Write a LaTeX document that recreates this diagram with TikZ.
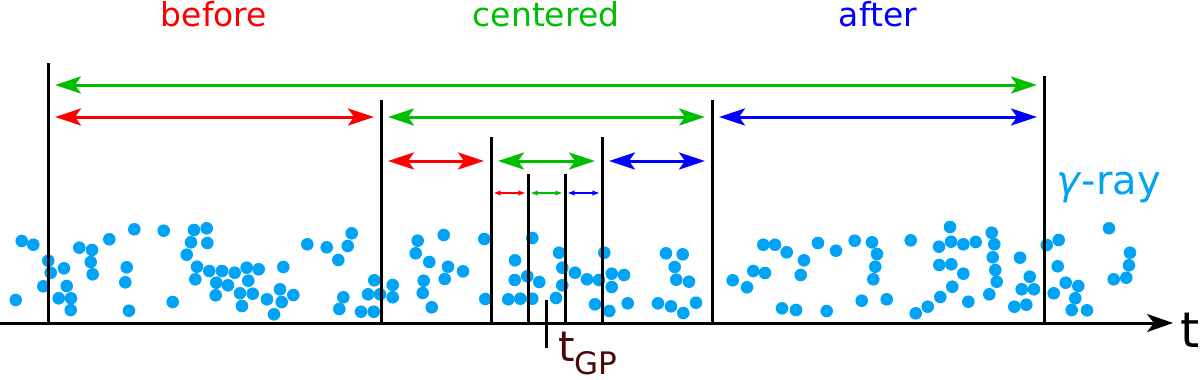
\documentclass[tikz,border=0pt]{standalone}
\usepackage{fontspec}
\setmainfont{DejaVu Sans}
\usetikzlibrary{arrows.meta}
\definecolor{bred}{RGB}{255,0,0}
\definecolor{bgreen}{RGB}{0,190,0}
\definecolor{bblue}{RGB}{0,0,255}
\definecolor{photon}{RGB}{0,163,245}
\definecolor{gpbrown}{RGB}{75,8,8}
\tikzset{
  lbl/.style={inner sep=0pt, anchor=base, font=\fontsize{33}{40}\selectfont},
  edge/.style={line width=3pt},
  bigwin/.style={line width=3pt, shorten <=7pt, shorten >=7pt,
    {Stealth[length=26pt,width=17pt,inset=6pt]}-{Stealth[length=26pt,width=17pt,inset=6pt]}},
  smallwin/.style={line width=1.2pt, shorten <=3pt, shorten >=3pt,
    {Stealth[length=7pt,width=5pt,inset=1.5pt]}-{Stealth[length=7pt,width=5pt,inset=1.5pt]}},
  dot/.style={fill=photon}
}
\begin{document}
\begin{tikzpicture}[x=1pt,y=-1pt]
\useasboundingbox (0,0) rectangle (1200,380);
% photons
\foreach \px/\py in {21.7/241,33.3/244.7,48.3/260.7,50.7/272.7,43.3/286.3,15.7/300,64/268.3,66.7/286,58.7/298.3,71/298.3,70.7/310,79.3/247.7,92/250,90.7/262,92.7/274.3,109.3/239.3,134.3/229.3,163.7/230.7,126.7/267.3,125.3/282.3,129/310.7,172.7/302,194/230,206.7/228.3,191/242.3,207.3/243,186.7/254.7,197/266.7,195.3/279.3,209.3/271,222/271,234.7/272.7,246.7/267.7,258.7/269.3,216.3/282.7,228/285.3,248.3/280.7,215.7/295.3,240/293.3,252.7/293.7,242/306,283.3/267,280/289.3,267/299.3,281.7/302,293.3/295,274/314.3,307.3/244.3,326.7/247.3,347.7/246,351.7/233.3,338.3/260,343.3/297.3,339.3/309,361/311.7,373.7/311.7,368/294.3,374.3/280.3,380/294.3,392.7/285,392.7/297.3}
  \fill[dot] (\px,\py) circle (6.3pt);
\foreach \px/\py in {417.7/240.7,443.7/235,484.3/239,415.7/253.3,429.3/262,448/266.7,463/271.3,423.7/280.7,444.7/279,422.7/293,431.7/307.3,485.3/299,508.3/299.3,520.3/298.7,532.3/298.7,532.3/238,515/260.3,514.7/280,527.3/276.3,539.3/282,556/298,559/252.7,562.3/267.7,562.3/285.3,575/272.7,587/279.3,599/280,604.3/252.7,611.7/273.7,611.7/287,624/275,595/304.3,609.3/311,627.7/303.3,666/253.3,682.7/254.3,674.7/267,676.3/279.7,689/281.7,658/303.3,671/306.3,683.3/313,696/302.7,732.7/280.3,747/287.3,753.3/271,765/273,763.3/244.7,775/244.7}
  \fill[dot] (\px,\py) circle (6.3pt);
\foreach \px/\py in {786.7/252.3,804/260.3,800.7/275,782/308.3,796/310,818/243,836/250.7,826.7/311,854.7/240.7,872/242.3,877/254,875.3/266.7,873.3/279.3,861.7/300.7,886.7/299.3,910.7/240.3,950/227,951/241.7,963.3/244.3,975.7/242,939/246.7,939.3/265,951.3/264.3,963.3/273.7,952.3/286.7,940.3/297,927.7/306.7,915.7/313.3,968.3/301.7,991.7/232.7,994.3/244.3,992.7/257.3,995.3/270,996.7/281.7,989.3/294.3,1020/257.7,1029.7/276.7,1021.7/289.3,1034/289.3,1014.3/306.7,1026.3/304.7,1046.7/245,1058.7/240,1057.7/266.3,1065.7/282.7,1078.3/286,1053.7/293.3,1075.3/298.3,1071.7/310,1087/310.3,1109/228.3,1130/252.7,1129/265.3,1126.3/277.7,1113.7/279.3}
  \fill[dot] (\px,\py) circle (6.3pt);

% window edges
\foreach \n/\ex/\et in {0/48/63,1/381/100,2/491/137,3/528/174,4/565/174,5/602/137,6/712/100,7/1044/76} {
  \coordinate (e\n) at (\ex,323);
  \coordinate (e\n t) at (\ex,\et);
  \draw[edge] (e\n) -- (e\n t);
}

% levels of the windows
\coordinate (lvA) at (0,85);
\coordinate (lvB) at (0,117);
\coordinate (lvC) at (0,161);
\coordinate (lvD) at (0,193);
\draw[bigwin, bgreen] (e0 |- lvA) -- (e7 |- lvA);
\draw[bigwin, bred] (e0 |- lvB) -- (e1 |- lvB);
\draw[bigwin, bgreen] (e1 |- lvB) -- (e6 |- lvB);
\draw[bigwin, bblue] (e6 |- lvB) -- (e7 |- lvB);
\draw[bigwin, bred] (e1 |- lvC) -- (e2 |- lvC);
\draw[bigwin, bgreen] (e2 |- lvC) -- (e5 |- lvC);
\draw[bigwin, bblue] (e5 |- lvC) -- (e6 |- lvC);
\draw[smallwin, bred] (e2 |- lvD) -- (e3 |- lvD);
\draw[smallwin, bgreen] (e3 |- lvD) -- (e4 |- lvD);
\draw[smallwin, bblue] (e4 |- lvD) -- (e5 |- lvD);

% labels
\node[lbl, bred] (before) at (214,26) {before};
\node[lbl, bgreen] (centered) at (546,26) {centered};
\node[lbl, bblue] (after) at (878,26) {after};
\node[inner sep=0pt, anchor=base west, photon, font=\fontsize{40}{46}\selectfont] (gray) at (1056,194) {\textit{γ}-ray};

% time axis
\coordinate (t0) at (0,323);
\coordinate (t1) at (1173,323);
\draw[line width=3pt, -{Stealth[length=26pt,width=18pt,inset=7pt]}] (t0) -- (t1);
\node[inner sep=0pt, anchor=base west, font=\fontsize{49}{56}\selectfont] (tlab) at (1180,347) {t};

% GP time
\coordinate (gpa) at (546,300);
\coordinate (gpb) at (546,348);
\draw[edge] (gpa) -- (gpb);
\node[inner sep=0pt, anchor=base west, gpbrown, font=\fontsize{42}{48}\selectfont] (tgp) at (558,361)
  {t\raisebox{-13pt}{\fontsize{31}{36}\selectfont GP}};
\end{tikzpicture}
\end{document}
